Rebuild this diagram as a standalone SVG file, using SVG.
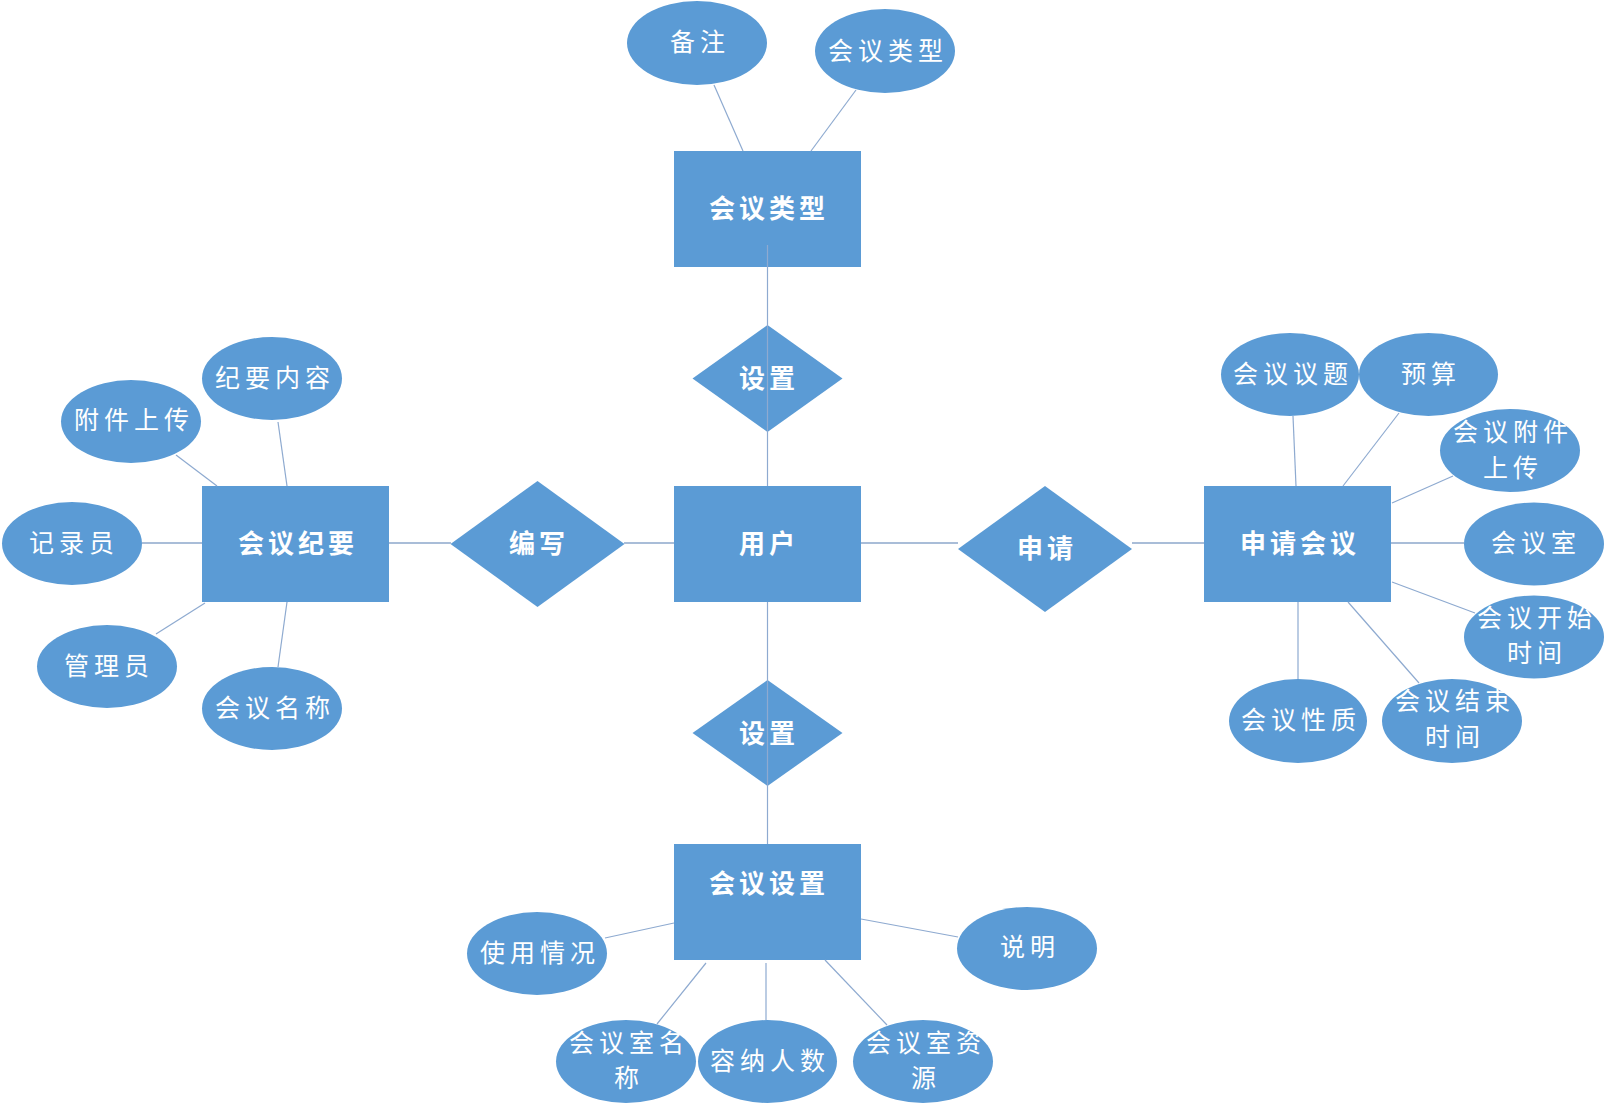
<svg xmlns="http://www.w3.org/2000/svg" width="1610" height="1109" viewBox="0 0 1610 1109">
<style>
.shape{fill:#5b9bd5;}
.ent{fill:#fff;font-family:"Noto Sans CJK SC","Noto Sans",sans-serif;font-size:26px;font-weight:bold;letter-spacing:4px;text-anchor:middle;dominant-baseline:central;}
.att{fill:#fff;font-family:"Noto Sans CJK SC","Noto Sans",sans-serif;font-size:25px;letter-spacing:5px;text-anchor:middle;dominant-baseline:central;}
.ln{stroke:#8eaad0;stroke-width:1.2;fill:none;}
.lnh{stroke:#a9bdd8;stroke-width:2;fill:none;}
</style>
<rect width="1610" height="1109" fill="#fff"/>
<g id="nodes">
<g id="e-huiyileixing"><rect class="shape" x="674" y="151" width="187" height="116"/><text class="ent" x="769" y="206">会议类型</text></g>
<g id="e-yonghu"><rect class="shape" x="674" y="486" width="187" height="116"/><text class="ent" x="769" y="541">用户</text></g>
<g id="e-huiyijiyao"><rect class="shape" x="202" y="486" width="187" height="116"/><text class="ent" x="298" y="541">会议纪要</text></g>
<g id="e-shenqinghuiyi"><rect class="shape" x="1204" y="486" width="187" height="116"/><text class="ent" x="1300" y="541">申请会议</text></g>
<g id="e-huiyishezhi"><rect class="shape" x="674" y="844" width="187" height="116"/><text class="ent" x="769" y="881">会议设置</text></g>

<g id="r-shezhi1"><polygon class="shape" points="767.5,325 842.5,378.5 767.5,432 692.5,378.5"/><text class="ent" x="769" y="376">设置</text></g>
<g id="r-shezhi2"><polygon class="shape" points="767.5,680 842.5,733 767.5,786 692.5,733"/><text class="ent" x="769" y="731">设置</text></g>
<g id="r-bianxie"><polygon class="shape" points="537.5,481 624.5,544 537.5,607 450.5,544"/><text class="ent" x="539" y="541">编写</text></g>
<g id="r-shenqing"><polygon class="shape" points="1045,486 1132,549 1045,612 958,549"/><text class="ent" x="1047" y="546">申请</text></g>

<g id="a-beizhu"><ellipse class="shape" cx="697" cy="43" rx="70" ry="42"/><text class="att" x="700" y="40">备注</text></g>
<g id="a-huiyileixing"><ellipse class="shape" cx="885" cy="51" rx="70" ry="42"/><text class="att" x="888" y="49">会议类型</text></g>

<g id="a-jiyaoneirong"><ellipse class="shape" cx="272" cy="378.5" rx="70" ry="41.5"/><text class="att" x="275" y="376">纪要内容</text></g>
<g id="a-fujianshangchuan"><ellipse class="shape" cx="131" cy="421.5" rx="70" ry="41.5"/><text class="att" x="134" y="418">附件上传</text></g>
<g id="a-jiluyuan"><ellipse class="shape" cx="72" cy="543.5" rx="70" ry="41.5"/><text class="att" x="74" y="541">记录员</text></g>
<g id="a-guanliyuan"><ellipse class="shape" cx="107" cy="666.5" rx="70" ry="41.5"/><text class="att" x="109" y="664">管理员</text></g>
<g id="a-huiyimingcheng"><ellipse class="shape" cx="272" cy="708.5" rx="70" ry="41.5"/><text class="att" x="275" y="706">会议名称</text></g>

<g id="a-huiyiyiti"><ellipse class="shape" cx="1290" cy="374.5" rx="69" ry="41.5"/><text class="att" x="1293" y="372">会议议题</text></g>
<g id="a-yusuan"><ellipse class="shape" cx="1428.5" cy="374.5" rx="69.5" ry="41.5"/><text class="att" x="1431" y="372">预算</text></g>
<g id="a-huiyifujian"><ellipse class="shape" cx="1510" cy="450.5" rx="70" ry="41.5"/><text class="att" x="1513" y="430">会议附件</text><text class="att" x="1513" y="466">上传</text></g>
<g id="a-huiyishi"><ellipse class="shape" cx="1534" cy="544" rx="70" ry="41.5"/><text class="att" x="1536" y="541">会议室</text></g>
<g id="a-kaishishijian"><ellipse class="shape" cx="1534" cy="637" rx="70" ry="41.5"/><text class="att" x="1537" y="616">会议开始</text><text class="att" x="1537" y="651">时间</text></g>
<g id="a-huiyixingzhi"><ellipse class="shape" cx="1298" cy="721" rx="69" ry="42"/><text class="att" x="1301" y="718">会议性质</text></g>
<g id="a-jieshushijian"><ellipse class="shape" cx="1452" cy="721" rx="70" ry="42"/><text class="att" x="1455" y="699">会议结束</text><text class="att" x="1455" y="735">时间</text></g>

<g id="a-shiyongqingkuang"><ellipse class="shape" cx="537" cy="953.5" rx="70" ry="41.5"/><text class="att" x="540" y="951">使用情况</text></g>
<g id="a-shuoming"><ellipse class="shape" cx="1027" cy="948.5" rx="70" ry="41.5"/><text class="att" x="1030" y="945">说明</text></g>
<g id="a-huiyishimingcheng"><ellipse class="shape" cx="626" cy="1061.5" rx="70" ry="41.5"/><text class="att" x="629" y="1041">会议室名</text><text class="att" x="629" y="1076">称</text></g>
<g id="a-rongnarenshu"><ellipse class="shape" cx="767.5" cy="1061.5" rx="69.5" ry="41.5"/><text class="att" x="770" y="1059">容纳人数</text></g>
<g id="a-huiyishiziyuan"><ellipse class="shape" cx="923" cy="1061.5" rx="70" ry="41.5"/><text class="att" x="926" y="1041">会议室资</text><text class="att" x="926" y="1076">源</text></g>
</g>

<g id="connectors">
<line class="ln" x1="714" y1="85" x2="743" y2="151"/>
<line class="ln" x1="856" y1="90" x2="811" y2="151"/>
<line class="ln" x1="767.5" y1="245" x2="767.5" y2="486"/>
<line class="ln" x1="767.5" y1="602" x2="767.5" y2="844"/>

<line class="lnh" x1="389" y1="543" x2="451" y2="543"/>
<line class="lnh" x1="624" y1="543" x2="674" y2="543"/>
<line class="lnh" x1="861" y1="543" x2="958" y2="543"/>
<line class="lnh" x1="1132" y1="543" x2="1204" y2="543"/>

<line class="ln" x1="278" y1="422" x2="287" y2="486"/>
<line class="ln" x1="176" y1="455" x2="217" y2="486"/>
<line class="lnh" x1="142" y1="543" x2="202" y2="543"/>
<line class="ln" x1="156" y1="634" x2="205" y2="603"/>
<line class="ln" x1="278" y1="667" x2="287" y2="602"/>

<line class="ln" x1="1293" y1="416" x2="1296" y2="486"/>
<line class="ln" x1="1399" y1="413" x2="1343" y2="486"/>
<line class="ln" x1="1453" y1="476" x2="1392" y2="503"/>
<line class="lnh" x1="1391" y1="543" x2="1464" y2="543"/>
<line class="ln" x1="1392" y1="582" x2="1475" y2="613"/>
<line class="ln" x1="1298" y1="602" x2="1298" y2="679"/>
<line class="ln" x1="1348" y1="602" x2="1419" y2="683"/>

<line class="ln" x1="674" y1="923" x2="605" y2="938"/>
<line class="ln" x1="861" y1="919" x2="958" y2="937"/>
<line class="ln" x1="706" y1="963" x2="657" y2="1024"/>
<line class="ln" x1="766" y1="963" x2="766" y2="1020"/>
<line class="ln" x1="825" y1="960" x2="887" y2="1025"/>
</g>
</svg>
